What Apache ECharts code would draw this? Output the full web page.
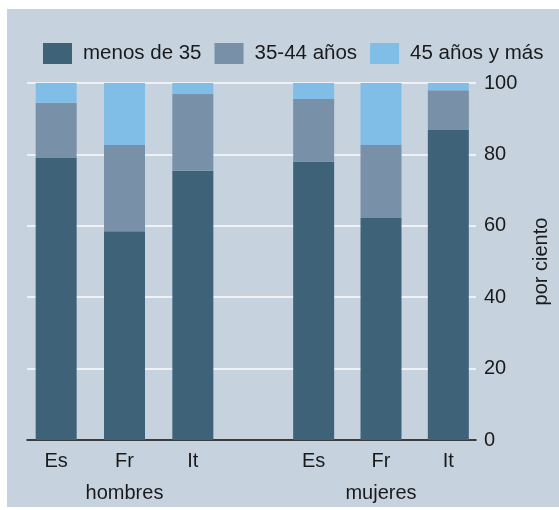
<!DOCTYPE html>
<html>
<head>
    <meta charset="utf-8" />
    <script src="https://cdn.jsdelivr.net/npm/echarts@6.0.0/dist/echarts.min.js"></script>
    <style>
        body { margin: 0; background: #fff; }
        #main { width: 559px; height: 510px; }
    </style>
</head>
<body>
    <div id="main"></div>
<script type="text/javascript">
    // categories / groups
    var countries = ['Es', 'Fr', 'It'];
    var groups = ['hombres', 'mujeres'];
    var ageNames = ['menos de 35', '35-44 años', '45 años y más'];
    var yTicks = [0, 20, 40, 60, 80, 100];

    // por ciento
    var menos35Hombres = [79.0, 58.5, 75.4];
    var a3544Hombres   = [15.5, 24.1, 21.5];
    var a45Hombres     = [5.5, 17.4, 3.1];
    var menos35Mujeres = [78.0, 62.2, 86.8];
    var a3544Mujeres   = [17.5, 20.4, 11.2];
    var a45Mujeres     = [4.5, 17.4, 2.0];

    var colors = ['#3e6379', '#7890a8', '#80bee8'];
    var font = 'Liberation Sans, Arial, sans-serif';
    var fs = 20;

    var chart = echarts.init(document.getElementById('main'));

    var gridTop = 83, gridBottom = 70;
    var grids = [
        { left: 27, width: 450, top: gridTop, bottom: gridBottom },   // background grid (gridlines, y labels, base line)
        { left: 22, width: 205, top: gridTop, bottom: gridBottom },   // hombres
        { left: 280, width: 202, top: gridTop, bottom: gridBottom }   // mujeres
    ];

    var xAxes = [
        {
            gridIndex: 0, type: 'category', data: [''],
            axisLine: { show: true, lineStyle: { color: '#000', width: 1.5 } },
            axisTick: { show: false }, axisLabel: { show: false }
        }
    ];
    groups.forEach(function (g, i) {
        xAxes.push({
            gridIndex: i + 1, type: 'category', data: countries,
            axisLine: { show: false }, axisTick: { show: false },
            axisLabel: { fontSize: fs, color: '#1a1a1a', fontFamily: font, margin: 11 },
            name: g, nameLocation: 'middle', nameGap: 43,
            nameTextStyle: { fontSize: fs, color: '#1a1a1a', fontFamily: font }
        });
    });

    var yAxes = [
        {
            gridIndex: 0, type: 'value', position: 'right', min: 0, max: 100, interval: 20,
            axisLine: { show: false }, axisTick: { show: false },
            axisLabel: {
                fontSize: fs, color: '#1a1a1a', fontFamily: font, margin: 8,
                formatter: function (v) { return yTicks.indexOf(v) >= 0 ? String(v) : ''; }
            },
            splitLine: { show: true, lineStyle: { color: '#eef2f6', width: 2 } },
            name: 'por ciento', nameLocation: 'middle', nameRotate: 90, nameGap: 55,
            nameTextStyle: { fontSize: fs, color: '#1a1a1a', fontFamily: font }
        },
        { gridIndex: 1, type: 'value', min: 0, max: 100, show: false },
        { gridIndex: 2, type: 'value', min: 0, max: 100, show: false }
    ];

    var groupData = [
        [menos35Hombres, a3544Hombres, a45Hombres],
        [menos35Mujeres, a3544Mujeres, a45Mujeres]
    ];
    var series = [];
    groupData.forEach(function (sets, gi) {
        sets.forEach(function (vals, ai) {
            series.push({
                name: ageNames[ai],
                type: 'bar',
                stack: groups[gi],
                xAxisIndex: gi + 1,
                yAxisIndex: gi + 1,
                barWidth: 41,
                itemStyle: { color: colors[ai] },
                data: vals
            });
        });
    });

    var option = {
        backgroundColor: '#fff',
        animation: false,
        graphic: [{
            type: 'rect', z: -10, silent: true,
            shape: { x: 7, y: 9, width: 552, height: 498 },
            style: { fill: '#c6d3df' }
        }],
        legend: {
            left: 43, top: 43, padding: 0,
            itemWidth: 29, itemHeight: 21, itemGap: 13,
            icon: 'rect',
            data: ageNames,
            textStyle: { fontSize: 20.5, color: '#1a1a1a', fontFamily: font, padding: [0, 0, 0, 6] }
        },
        grid: grids,
        xAxis: xAxes,
        yAxis: yAxes,
        series: series
    };

    chart.setOption(option);
</script>
</body>
</html>
